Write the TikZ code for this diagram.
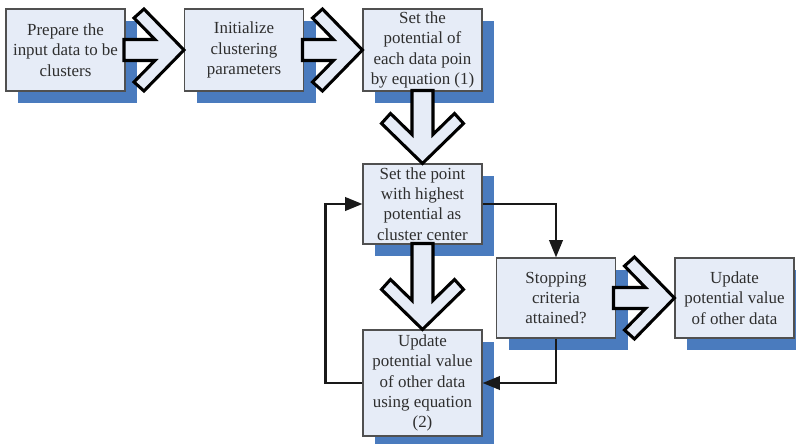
\documentclass[tikz,border=0pt]{standalone}
\usepackage{fontspec}
\setmainfont{Liberation Serif}
\usepackage{tikz}
\usetikzlibrary{arrows.meta,shadows}
\definecolor{boxfill}{HTML}{E6ECF7}
\definecolor{boxline}{HTML}{505050}
\definecolor{shadowblue}{HTML}{4A7BBE}
\definecolor{txtgray}{HTML}{2E2E2E}
\tikzset{
  % kaskade
  stepbox/.style={rectangle,draw=boxline,fill=boxfill,line width=0.8pt,
                  minimum width=89.25pt,minimum height=61.5pt,inner sep=1pt,
                  align=center,text=txtgray,font=\fontsize{12.7}{15.3}\selectfont,
                  general shadow={fill=shadowblue,shadow xshift=9pt,shadow yshift=-9pt}},
  tallbox/.style={stepbox,minimum height=79.5pt},
  lowbox/.style={stepbox,minimum height=60pt},
  bigarr/.style={draw=black,fill=boxfill,line width=2.3pt,line join=miter},
  conn/.style={-{Triangle[length=13pt,width=10pt]},draw=black!90,line width=2pt},
  pics/bigarrow/.style={code={
    \draw[bigarr] (-#1,-10.5) -- (-29,-10.5) -- (-50,-32) -- (-40,-41) -- (0,0)
      -- (-40,41) -- (-50,32) -- (-29,10.5) -- (-#1,10.5) -- cycle;
  }},
}
\begin{document}
\begin{tikzpicture}[x=0.75pt,y=-0.75pt]
\useasboundingbox (0,0) rectangle (796,443);
  \node[stepbox] (prep) at (65.5,50) {Prepare the\\input data to be\\clusters};
  \node[stepbox] (init) at (244,50) {Initialize\\clustering\\parameters};
  \node[stepbox] (pot) at (422.5,50) {Set the\\potential of\\each data poin\\by equation (1)};
  \node[lowbox] (center) at (422.5,204) {Set the point\\with highest\\potential as\\cluster center};
  \node[tallbox] (upd) at (422.5,383) {Update\\potential value\\of other data\\using equation\\(2)};
  \node[lowbox] (stop) at (556,298) {Stopping\\criteria\\attained?};
  \node[lowbox] (final) at (734.5,298) {Update\\potential value\\of other data};
  % dicke pfeile
  \pic at (init.west) {bigarrow=60};
  \pic at (pot.west) {bigarrow=60};
  \pic[rotate=-90] at (center.north) {bigarrow=73};
  \pic[rotate=-90] at (upd.north) {bigarrow=86};
  \pic at (final.west) {bigarrow=61};
  % schleife
  \draw[conn] (center.east) -| (stop.north);
  \draw[conn] (stop.south) |- (upd.east);
  \draw[conn] (upd.west) -- ++(-37,0) |- (center.west);
\end{tikzpicture}
\end{document}
